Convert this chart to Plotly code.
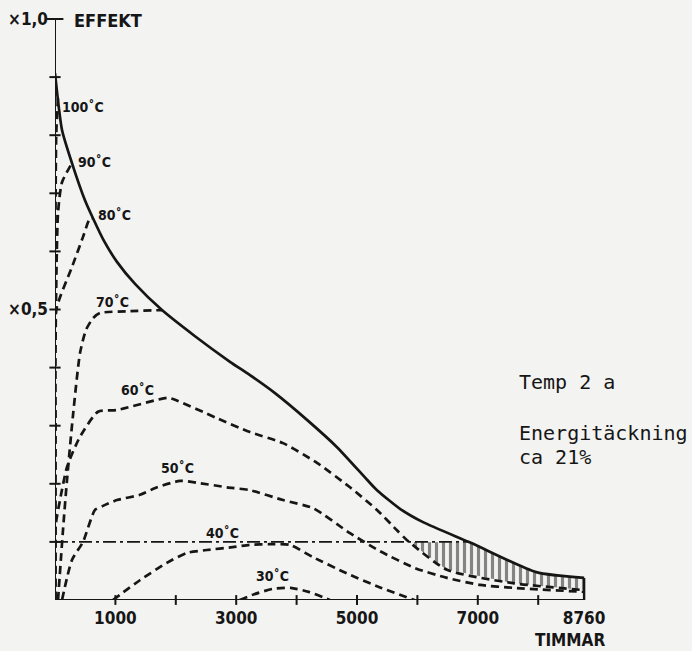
import numpy as np
import plotly.graph_objects as go

# Load duration curve: fraction of peak heat effect against hours of the year
LOAD_HOURS = [0, 116, 281, 496, 629, 811, 1026, 1325, 1771, 2318, 2897, 3228, 3642, 4172, 4669, 5166, 5331, 5712, 6093, 6893, 7967, 8760]
LOAD_EFFECT = [0.907, 0.809, 0.752, 0.688, 0.657, 0.618, 0.582, 0.544, 0.499, 0.454, 0.410, 0.387, 0.356, 0.310, 0.263, 0.207, 0.189, 0.157, 0.134, 0.098, 0.048, 0.038]

# Usable effect at different supply temperatures
T100_HOURS = [1, 2, 20, 50]
T100_EFFECT = [0.0, 0.50, 0.80, 0.865]

T90_HOURS = [3, 5, 50, 116, 281]
T90_EFFECT = [0.0, 0.40, 0.666, 0.719, 0.752]

T80_HOURS = [5, 8, 20, 281, 464, 579, 629]
T80_EFFECT = [0.0, 0.30, 0.499, 0.573, 0.625, 0.657, 0.657]

T70_HOURS = [50, 132, 199, 298, 414, 513, 629, 745, 1242, 1771]
T70_EFFECT = [0.0, 0.120, 0.207, 0.318, 0.425, 0.465, 0.485, 0.494, 0.497, 0.499]

T60_HOURS = [5, 8, 83, 199, 414, 712, 1026, 1854, 1954, 2682, 3228, 3775, 4338, 4884, 5331, 5662, 5828, 6490, 7583, 8760]
T60_EFFECT = [0.0, 0.126, 0.172, 0.229, 0.281, 0.324, 0.327, 0.348, 0.346, 0.313, 0.289, 0.270, 0.236, 0.194, 0.155, 0.120, 0.103, 0.052, 0.029, 0.017]

T50_HOURS = [116, 281, 464, 662, 795, 1026, 1407, 1689, 2070, 2401, 2848, 3228, 3775, 4272, 4884, 5381, 5960, 6490, 7036, 7583, 8760]
T50_EFFECT = [0.0, 0.069, 0.100, 0.155, 0.162, 0.172, 0.181, 0.194, 0.205, 0.201, 0.194, 0.189, 0.172, 0.158, 0.115, 0.084, 0.055, 0.038, 0.026, 0.021, 0.014]

T40_HOURS = [959, 1405, 1851, 2182, 2513, 2942, 3223, 3554, 3885, 4265, 4827, 5372, 5951]
T40_EFFECT = [0.0, 0.034, 0.064, 0.081, 0.086, 0.091, 0.095, 0.096, 0.095, 0.074, 0.046, 0.022, 0.0]

T30_HOURS = [3058, 3300, 3600, 3900, 4200, 4550]
T30_EFFECT = [0.0, 0.010, 0.019, 0.021, 0.014, 0.0]

LIMIT_LEVEL = 0.1

YEAR_HOURS = 8760
X_TICKS = [1000, 3000, 5000, 7000, 8760]
X_TICK_TEXT = ["1000", "3000", "5000", "7000", "8760"]
X_MARKS = [1000, 2000, 3000, 4000, 5000, 6000, 7000, 8000]
Y_TICKS = [0.5, 1.0]
Y_TICK_TEXT = ["×0,5", "×1,0"]
Y_MARKS = [0.1, 0.2, 0.3, 0.4, 0.5, 0.6, 0.7, 0.8, 0.9]

TEMP_LABELS = ["100˚C", "90˚C", "80˚C", "70˚C", "60˚C", "50˚C", "40˚C", "30˚C"]

INK = "#161616"
PAPER = "#f3f3f1"
LETTER = "DejaVu Sans Condensed, DejaVu Sans, sans-serif"
TYPE = "DejaVu Sans Mono, Liberation Mono, monospace"

W, H = 692, 651
M_L, M_R, M_T, M_B = 55, 0, 2, 51
PX_PER_HOUR = 0.0604
PX_PER_UNIT = 581.0
x_max = (W - M_L - M_R) / PX_PER_HOUR
y_max = (H - M_T - M_B) / PX_PER_UNIT

fig = go.Figure()

dash_style = dict(color=INK, width=2.7, dash="8px,5px")
curves = [
    (T100_HOURS, T100_EFFECT), (T90_HOURS, T90_EFFECT), (T80_HOURS, T80_EFFECT),
    (T70_HOURS, T70_EFFECT), (T60_HOURS, T60_EFFECT), (T50_HOURS, T50_EFFECT),
    (T40_HOURS, T40_EFFECT), (T30_HOURS, T30_EFFECT),
]

# hatched area: below the limit line and the load curve, above the 60 degree curve
grid = np.linspace(0, YEAR_HOURS, 3505)
load_on_grid = np.interp(grid, LOAD_HOURS, LOAD_EFFECT)
top = np.minimum(load_on_grid, LIMIT_LEVEL)
bottom = np.interp(grid, T60_HOURS, T60_EFFECT)
mask = (top > bottom) & (grid > 4000)
gx = grid[mask]
fig.add_trace(go.Scatter(
    x=np.concatenate([gx, gx[::-1]]),
    y=np.concatenate([top[mask], bottom[mask][::-1]]),
    mode="lines", fill="toself", line=dict(width=0, color=INK),
    fillcolor="rgba(0,0,0,0)",
    fillpattern=dict(shape="|", size=7, solidity=0.45, fgcolor=INK, bgcolor="rgba(0,0,0,0)"),
    hoverinfo="skip", showlegend=False,
))

# limit line up to where it meets the load curve
cross = grid[np.argmax(load_on_grid <= LIMIT_LEVEL)]
fig.add_trace(go.Scatter(
    x=[0, cross], y=[LIMIT_LEVEL, LIMIT_LEVEL], mode="lines",
    line=dict(color=INK, width=1.7, dash="13px,4px,3px,4px"),
    hoverinfo="skip", showlegend=False,
))

for hx, ey in curves:
    fig.add_trace(go.Scatter(
        x=hx, y=ey, mode="lines",
        line=dict(**dash_style, shape="spline", smoothing=0.6),
        hoverinfo="skip", showlegend=False,
    ))

fig.add_trace(go.Scatter(
    x=LOAD_HOURS, y=LOAD_EFFECT, mode="lines",
    line=dict(color=INK, width=2.7, shape="spline", smoothing=0.6),
    hoverinfo="skip", showlegend=False,
))
fig.add_trace(go.Scatter(
    x=[YEAR_HOURS, YEAR_HOURS], y=[LOAD_EFFECT[-1], 0], mode="lines",
    line=dict(color=INK, width=2.4), hoverinfo="skip", showlegend=False,
))

# axes drawn as lines with crossing tick marks
fig.add_trace(go.Scatter(x=[0, 0], y=[0, 1.0], mode="lines", line=dict(color=INK, width=2),
                         hoverinfo="skip", showlegend=False))
fig.add_trace(go.Scatter(x=[0, YEAR_HOURS], y=[0, 0], mode="lines", line=dict(color=INK, width=2),
                         hoverinfo="skip", showlegend=False))
fig.add_trace(go.Scatter(x=[0] * len(Y_MARKS), y=Y_MARKS, mode="markers", cliponaxis=False,
                         marker=dict(symbol="line-ew", size=8, line=dict(color=INK, width=2)),
                         hoverinfo="skip", showlegend=False))
fig.add_trace(go.Scatter(x=[0], y=[1.0], mode="markers", cliponaxis=False,
                         marker=dict(symbol="line-ew", size=12, line=dict(color=INK, width=2)),
                         hoverinfo="skip", showlegend=False))
fig.add_trace(go.Scatter(x=X_MARKS, y=[0] * len(X_MARKS), mode="markers", cliponaxis=False,
                         marker=dict(symbol="line-ns", size=7, line=dict(color=INK, width=2)),
                         hoverinfo="skip", showlegend=False))

label_pos = [(464, 0.849), (646, 0.754), (993, 0.663), (960, 0.513),
             (1374, 0.361), (2036, 0.227), (2765, 0.115), (3593, 0.041)]
annotations = []
for text, (lx, ly) in zip(TEMP_LABELS, label_pos):
    annotations.append(dict(x=lx, y=ly, text=text, showarrow=False, xanchor="center", yanchor="middle",
                            font=dict(family=LETTER, size=14, color=INK, weight="bold")))
annotations += [
    dict(x=281, y=0.998, text="EFFEKT", showarrow=False, xanchor="left", yanchor="middle",
         font=dict(family=LETTER, size=18, color=INK, weight="bold")),
    dict(x=8526, xref="x", y=-40 / (H - M_T - M_B), yref="paper", text="TIMMAR", showarrow=False,
         xanchor="center", yanchor="middle",
         font=dict(family=LETTER, size=17, color=INK, weight="bold")),
    dict(x=7649, y=0.375, text="Temp 2 a", showarrow=False, xanchor="left", yanchor="middle",
         font=dict(family=TYPE, size=20, color=INK)),
    dict(x=7649, y=0.287, text="Energitäckning", showarrow=False, xanchor="left", yanchor="middle",
         font=dict(family=TYPE, size=20, color=INK)),
    dict(x=7649, y=0.246, text="ca 21%", showarrow=False, xanchor="left", yanchor="middle",
         font=dict(family=TYPE, size=20, color=INK)),
]

fig.update_layout(
    width=W, height=H,
    margin=dict(l=M_L, r=M_R, t=M_T, b=M_B),
    paper_bgcolor=PAPER, plot_bgcolor=PAPER,
    showlegend=False,
    annotations=annotations,
    xaxis=dict(range=[0, x_max], showgrid=False, zeroline=False, showline=False,
               tickvals=X_TICKS, ticktext=X_TICK_TEXT, ticks="",
               tickfont=dict(family=LETTER, size=17, color=INK, weight="bold"), ticklabelstandoff=6),
    yaxis=dict(range=[0, y_max], showgrid=False, zeroline=False, showline=False,
               tickvals=Y_TICKS, ticktext=Y_TICK_TEXT, ticks="",
               tickfont=dict(family=LETTER, size=17, color=INK, weight="bold"), ticklabelstandoff=6),
)

fig.write_html("out.html")
